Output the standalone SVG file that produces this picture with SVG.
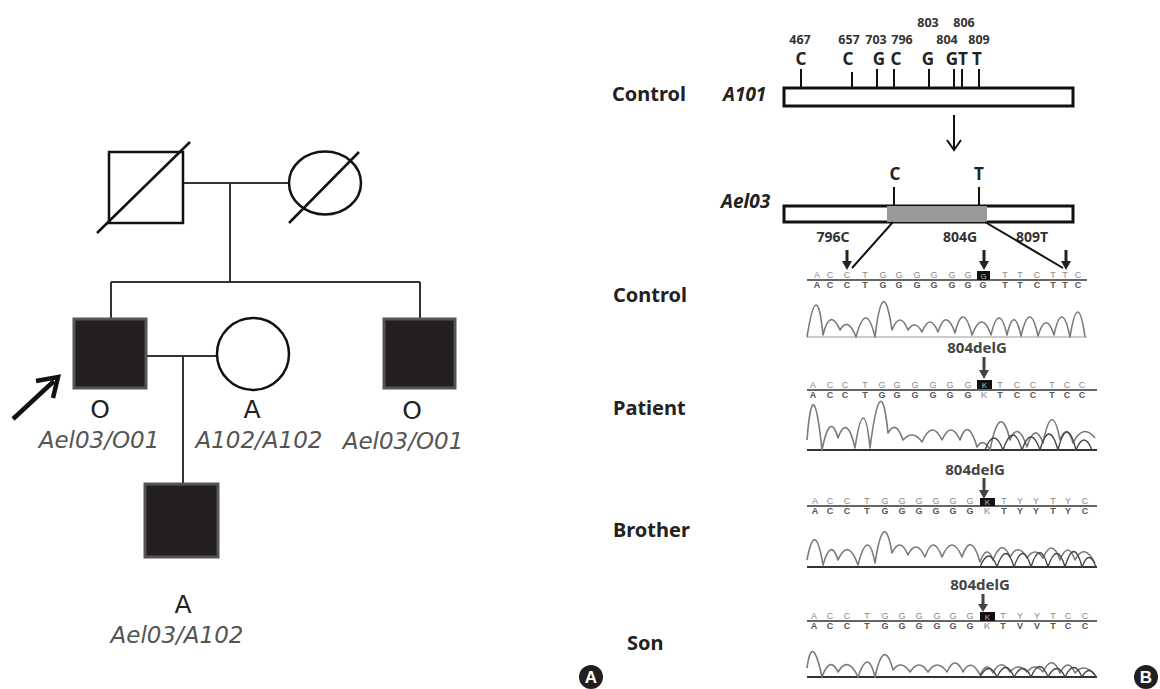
<svg xmlns="http://www.w3.org/2000/svg" width="1160" height="689" viewBox="0 0 1160 689">
<style>
.bg{fill:#fff}
.open{fill:#fff;stroke:#111;stroke-width:2.5}
.aff{fill:#231f20;stroke:#555;stroke-width:3}
.ln{stroke:#333;stroke-width:2;fill:none}
.slash{stroke:#111;stroke-width:2.5}
.ph{font-family:"DejaVu Sans",Verdana,sans-serif;font-size:25px;fill:#222;text-anchor:middle}
.gt{font-family:"DejaVu Sans",Verdana,sans-serif;font-style:italic;font-size:23px;fill:#555;text-anchor:middle}
.lab{font-family:"Noto Sans","Open Sans",sans-serif;font-weight:bold;font-size:20px;fill:#222}
.al{font-family:"Noto Sans","Open Sans",sans-serif;font-weight:bold;font-style:italic;font-size:19px;fill:#222}
.num{font-family:"Noto Sans","Open Sans",sans-serif;font-weight:bold;font-size:12.5px;fill:#333;text-anchor:middle}
.nt{font-family:"Noto Sans","Open Sans",sans-serif;font-weight:bold;font-size:17px;fill:#222;text-anchor:middle}
.mut{font-family:"Noto Sans","Open Sans",sans-serif;font-weight:bold;font-size:14px;fill:#333;text-anchor:middle}
.del{font-family:"Noto Sans","Open Sans",sans-serif;font-weight:bold;font-size:15px;fill:#444;text-anchor:middle}
.gene{fill:#fff;stroke:#111;stroke-width:3}
.tick{stroke:#111;stroke-width:2}
.seqt{font-family:"Liberation Sans",Arial,sans-serif;font-size:9px;fill:#888;text-anchor:middle}
.seqb{font-family:"Liberation Sans",Arial,sans-serif;font-size:9px;font-weight:bold;fill:#555;text-anchor:middle}
.axis{stroke:#666;stroke-width:2}
.tr{fill:none;stroke:#7a7a7a;stroke-width:1.6;stroke-linejoin:round}
.tr2{fill:none;stroke:#444;stroke-width:1.3;stroke-linejoin:round}
.box{fill:#111}
.boxt{font-family:"Liberation Sans",Arial,sans-serif;font-size:8px;fill:#bbb;text-anchor:middle}
.darr{fill:#222}
.badge{fill:#231f20}
.badget{font-family:"Liberation Sans",Arial,sans-serif;font-weight:bold;font-size:17px;fill:#fff;text-anchor:middle}
</style>
<rect class="bg" x="0" y="0" width="1160" height="689"/>

<!-- Panel A: pedigree -->
<g id="connectors">
  <line class="ln" x1="183" y1="183" x2="289" y2="183"/>
  <line class="ln" x1="230" y1="183" x2="230" y2="282"/>
  <line class="ln" x1="111" y1="282" x2="420" y2="282"/>
  <line class="ln" x1="111" y1="282" x2="111" y2="318"/>
  <line class="ln" x1="420" y1="282" x2="420" y2="318"/>
  <line class="ln" x1="146" y1="356" x2="217" y2="356"/>
  <line class="ln" x1="183" y1="356" x2="183" y2="484"/>
</g>
<g id="father">
  <rect class="open" x="109" y="152" width="74" height="71"/>
  <line class="slash" x1="97" y1="233" x2="190" y2="142"/>
</g>
<g id="mother">
  <ellipse class="open" cx="325" cy="183" rx="36" ry="31.5"/>
  <line class="slash" x1="289" y1="223" x2="359" y2="152"/>
</g>
<g id="patient">
  <rect class="aff" x="74" y="319" width="72" height="69"/>
  <text class="ph" x="100" y="418">O</text>
  <text class="gt" x="99" y="448">Ael03/O01</text>
  <line x1="13" y1="419" x2="54" y2="381" stroke="#111" stroke-width="4.5"/>
  <polyline points="36,381 58,377 53,398" fill="none" stroke="#111" stroke-width="4.5" stroke-linejoin="miter"/>
</g>
<g id="spouse">
  <circle class="open" cx="253" cy="354" r="36"/>
  <text class="ph" x="252" y="418">A</text>
  <text class="gt" x="259" y="448">A102/A102</text>
</g>
<g id="brother">
  <rect class="aff" x="384" y="319" width="71" height="69"/>
  <text class="ph" x="412" y="419">O</text>
  <text class="gt" x="403" y="449">Ael03/O01</text>
</g>
<g id="son">
  <rect class="aff" x="145" y="484" width="73" height="73"/>
  <text class="ph" x="183" y="613">A</text>
  <text class="gt" x="177" y="643">Ael03/A102</text>
</g>
<g id="badgeA">
  <circle class="badge" cx="591" cy="677" r="12"/>
  <text class="badget" x="591" y="683">A</text>
</g>

<!-- Panel B -->
<g id="genes">
  <text class="lab" x="612" y="101">Control</text>
  <text class="al" x="723" y="101">A101</text>
  <rect class="gene" x="784" y="88" width="289" height="18"/>
  <line class="tick" x1="801" y1="69" x2="801" y2="88"/>
  <line class="tick" x1="852" y1="72" x2="852" y2="88"/>
  <line class="tick" x1="877" y1="69" x2="877" y2="88"/>
  <line class="tick" x1="894" y1="69" x2="894" y2="88"/>
  <line class="tick" x1="929" y1="69" x2="929" y2="88"/>
  <line class="tick" x1="954" y1="69" x2="954" y2="88"/>
  <line class="tick" x1="962" y1="69" x2="962" y2="88"/>
  <line class="tick" x1="979" y1="69" x2="979" y2="88"/>
  <text class="num" x="800" y="44">467</text>
  <text class="num" x="849" y="44">657</text>
  <text class="num" x="876" y="44">703</text>
  <text class="num" x="902" y="44">796</text>
  <text class="num" x="928" y="27">803</text>
  <text class="num" x="947" y="44">804</text>
  <text class="num" x="964" y="27">806</text>
  <text class="num" x="979" y="44">809</text>
  <text class="nt" x="801" y="65">C</text>
  <text class="nt" x="848" y="65">C</text>
  <text class="nt" x="879" y="65">G</text>
  <text class="nt" x="896" y="65">C</text>
  <text class="nt" x="928" y="65">G</text>
  <text class="nt" x="952" y="65">G</text>
  <text class="nt" x="963" y="65">T</text>
  <text class="nt" x="977" y="65">T</text>
  <line x1="954" y1="115" x2="954" y2="149" stroke="#111" stroke-width="2"/>
  <polyline points="947,140 954,150 961,140" fill="none" stroke="#111" stroke-width="2"/>
  <text class="al" x="721" y="208">Ael03</text>
  <rect class="gene" x="784" y="206" width="289" height="16"/>
  <rect x="887" y="206" width="100" height="16" fill="#999"/>
  <line class="tick" x1="894" y1="187" x2="894" y2="206"/>
  <line class="tick" x1="979" y1="187" x2="979" y2="206"/>
  <text class="nt" x="895" y="180">C</text>
  <text class="nt" x="979" y="180">T</text>
  <text class="mut" x="833" y="242">796C</text>
  <text class="mut" x="960" y="242">804G</text>
  <text class="mut" x="1032" y="242">809T</text>
  <line x1="893" y1="222" x2="852" y2="268" stroke="#111" stroke-width="2"/>
  <line x1="985" y1="222" x2="1063" y2="268" stroke="#111" stroke-width="2"/>
  <polygon class="darr" points="845.5,250 848.5,250 848.5,261 852,261 847,270 842,261 845.5,261"/>
  <polygon class="darr" points="982.5,250 985.5,250 985.5,261 989,261 984,270 979,261 982.5,261"/>
  <polygon class="darr" points="1064.5,250 1067.5,250 1067.5,261 1071,261 1066,270 1061,261 1064.5,261"/>
</g>

<g id="row-control">
  <text class="lab" x="613" y="302">Control</text>
  <line class="axis" x1="807" y1="280" x2="1087" y2="280"/>
  <g class="seqt">
    <text x="817" y="278">A</text><text x="830" y="278">C</text><text x="847" y="278">C</text><text x="865" y="278">T</text><text x="883" y="278">G</text><text x="899" y="278">G</text><text x="917" y="278">G</text><text x="934" y="278">G</text><text x="952" y="278">G</text><text x="968" y="278">G</text><text x="1005" y="278">T</text><text x="1020" y="278">T</text><text x="1037" y="278">C</text><text x="1053" y="278">T</text><text x="1065" y="278">T</text><text x="1078" y="278">C</text>
  </g>
  <g class="seqb">
    <text x="817" y="288">A</text><text x="830" y="288">C</text><text x="847" y="288">C</text><text x="865" y="288">T</text><text x="883" y="288">G</text><text x="899" y="288">G</text><text x="917" y="288">G</text><text x="934" y="288">G</text><text x="952" y="288">G</text><text x="968" y="288">G</text><text x="983" y="288">G</text><text x="1005" y="288">T</text><text x="1020" y="288">T</text><text x="1037" y="288">C</text><text x="1053" y="288">T</text><text x="1065" y="288">T</text><text x="1078" y="288">C</text>
  </g>
  <rect class="box" x="977" y="271" width="13" height="9"/>
  <text class="boxt" x="983.5" y="279">G</text>
  <line x1="807" y1="337" x2="1087" y2="337" stroke="#999" stroke-width="1"/>
  <path class="tr" d="M807,337 Q817,274 823,335 Q830,307 840,330 Q848,316 856,337 Q866,299 875,337 Q883,270 892,330 Q900,310 908,330 Q915,319 922,332 Q930,312 938,332 Q946,307 955,333 Q963,300 972,335 Q982,309 991,335 Q999,301 1007,335 Q1014,304 1021,336 Q1030,298 1038,336 Q1046,310 1054,335 Q1062,298 1070,337 Q1078,287 1085,337"/>
</g>

<g id="row-patient">
  <text class="lab" x="613" y="415">Patient</text>
  <text class="del" x="977" y="353">804delG</text>
  <polygon fill="#444" points="982.5,357 985.5,357 985.5,370 989,370 984,379 979,370 982.5,370"/>
  <line class="axis" x1="807" y1="390" x2="1097" y2="390"/>
  <g class="seqt">
    <text x="813" y="388">A</text><text x="830" y="388">C</text><text x="845" y="388">C</text><text x="865" y="388">T</text><text x="882" y="388">G</text><text x="897" y="388">G</text><text x="915" y="388">G</text><text x="933" y="388">G</text><text x="950" y="388">G</text><text x="968" y="388">G</text><text x="1000" y="388">T</text><text x="1017" y="388">C</text><text x="1033" y="388">C</text><text x="1052" y="388">T</text><text x="1067" y="388">C</text><text x="1082" y="388">C</text>
  </g>
  <g class="seqb">
    <text x="813" y="398">A</text><text x="830" y="398">C</text><text x="845" y="398">C</text><text x="865" y="398">T</text><text x="882" y="398">G</text><text x="897" y="398">G</text><text x="915" y="398">G</text><text x="933" y="398">G</text><text x="950" y="398">G</text><text x="968" y="398">G</text><text x="984" y="398" fill="#aaa">K</text><text x="1000" y="398">T</text><text x="1017" y="398">C</text><text x="1033" y="398">C</text><text x="1052" y="398">T</text><text x="1067" y="398">C</text><text x="1082" y="398">C</text>
  </g>
  <rect class="box" x="977" y="380" width="15" height="9"/>
  <text class="boxt" x="984.5" y="388">K</text>
  <line x1="807" y1="450" x2="1097" y2="450" stroke="#333" stroke-width="2"/>
  <path class="tr" d="M807,440 Q813,365 822,450 Q830,410 838,438 Q847,413 855,448 Q864,388 870,448 Q881,363 888,433 Q896,419 903,440 Q913,429 922,442 Q932,419 942,440 Q951,420 960,440 Q968,416 977,447 Q983,437 990,450 Q1000,399 1010,440 Q1018,420 1027,447 Q1035,421 1043,443 Q1052,398 1060,440 Q1067,422 1073,443 Q1083,423 1095,438"/>
  <path class="tr2" d="M985,450 Q994,426 1003,450 Q1013,420 1022,450 Q1031,424 1040,450 Q1049,418 1058,450 Q1067,414 1076,450 Q1084,430 1092,450"/>
</g>

<g id="row-brother">
  <text class="lab" x="613" y="537">Brother</text>
  <text class="del" x="975" y="475">804delG</text>
  <polygon fill="#444" points="982.5,478 985.5,478 985.5,490 989,490 984,499 979,490 982.5,490"/>
  <line class="axis" x1="807" y1="506" x2="1097" y2="506"/>
  <g class="seqt">
    <text x="815" y="504">A</text><text x="830" y="504">C</text><text x="847" y="504">C</text><text x="867" y="504">T</text><text x="885" y="504">G</text><text x="902" y="504">G</text><text x="919" y="504">G</text><text x="936" y="504">G</text><text x="953" y="504">G</text><text x="970" y="504">G</text><text x="1004" y="504">T</text><text x="1020" y="504">Y</text><text x="1036" y="504">Y</text><text x="1053" y="504">T</text><text x="1068" y="504">Y</text><text x="1085" y="504">C</text>
  </g>
  <g class="seqb">
    <text x="815" y="514">A</text><text x="830" y="514">C</text><text x="847" y="514">C</text><text x="867" y="514">T</text><text x="885" y="514">G</text><text x="902" y="514">G</text><text x="919" y="514">G</text><text x="936" y="514">G</text><text x="953" y="514">G</text><text x="970" y="514">G</text><text x="987" y="514" fill="#aaa">K</text><text x="1004" y="514">T</text><text x="1020" y="514">Y</text><text x="1036" y="514">Y</text><text x="1053" y="514">T</text><text x="1068" y="514">Y</text><text x="1085" y="514">C</text>
  </g>
  <rect class="box" x="980" y="498" width="15" height="8"/>
  <text class="boxt" x="987.5" y="505">K</text>
  <line x1="807" y1="567" x2="1097" y2="567" stroke="#333" stroke-width="2"/>
  <path class="tr" d="M807,560 Q815,517 823,565 Q831,537 838,560 Q848,537 858,565 Q868,526 875,563 Q884,506 892,553 Q900,536 908,555 Q916,538 925,557 Q933,533 942,557 Q952,533 962,557 Q971,530 980,562 Q987,543 993,560 Q1002,537 1010,557 Q1018,542 1027,558 Q1035,546 1043,558 Q1052,537 1060,560 Q1068,540 1075,560 Q1084,542 1095,563"/>
  <path class="tr2" d="M980,567 Q989,545 997,567 Q1006,540 1014,567 Q1023,540 1031,567 Q1040,538 1048,567 Q1057,540 1065,567 Q1074,536 1082,567 Q1089,548 1096,567"/>
</g>

<g id="row-son">
  <text class="lab" x="627" y="650">Son</text>
  <text class="del" x="980" y="590">804delG</text>
  <polygon fill="#444" points="981.5,594 984.5,594 984.5,604 988,604 983,612 978,604 981.5,604"/>
  <line class="axis" x1="807" y1="621" x2="1097" y2="621"/>
  <g class="seqt">
    <text x="814" y="619">A</text><text x="830" y="619">C</text><text x="847" y="619">C</text><text x="867" y="619">T</text><text x="885" y="619">G</text><text x="902" y="619">G</text><text x="919" y="619">G</text><text x="937" y="619">G</text><text x="953" y="619">G</text><text x="970" y="619">G</text><text x="1003" y="619">T</text><text x="1020" y="619">Y</text><text x="1037" y="619">Y</text><text x="1053" y="619">T</text><text x="1068" y="619">C</text><text x="1085" y="619">C</text>
  </g>
  <g class="seqb">
    <text x="814" y="629">A</text><text x="830" y="629">C</text><text x="847" y="629">C</text><text x="867" y="629">T</text><text x="885" y="629">G</text><text x="902" y="629">G</text><text x="919" y="629">G</text><text x="937" y="629">G</text><text x="953" y="629">G</text><text x="970" y="629">G</text><text x="987" y="629" fill="#aaa">K</text><text x="1003" y="629">T</text><text x="1020" y="629">V</text><text x="1037" y="629">V</text><text x="1053" y="629">T</text><text x="1068" y="629">C</text><text x="1085" y="629">C</text>
  </g>
  <rect class="box" x="980" y="612" width="15" height="9"/>
  <text class="boxt" x="987.5" y="620">K</text>
  <line x1="807" y1="677" x2="1097" y2="677" stroke="#333" stroke-width="2"/>
  <path class="tr" d="M807,668 Q812,631 822,677 Q830,655 838,672 Q848,655 858,677 Q868,647 875,677 Q884,636 893,670 Q901,659 910,672 Q919,658 928,672 Q937,658 947,672 Q955,654 963,672 Q971,657 980,675 Q987,660 993,673 Q1001,657 1010,672 Q1018,662 1027,672 Q1035,662 1043,672 Q1052,653 1060,673 Q1068,657 1075,673 Q1084,662 1095,675"/>
  <path class="tr2" d="M980,677 Q989,660 997,677 Q1006,658 1014,677 Q1023,660 1031,677 Q1040,656 1048,677 Q1057,660 1065,677 Q1074,658 1082,677 Q1089,664 1096,677"/>
</g>

<g id="badgeB">
  <circle class="badge" cx="1146" cy="677" r="12"/>
  <text class="badget" x="1146" y="683">B</text>
</g>
</svg>
